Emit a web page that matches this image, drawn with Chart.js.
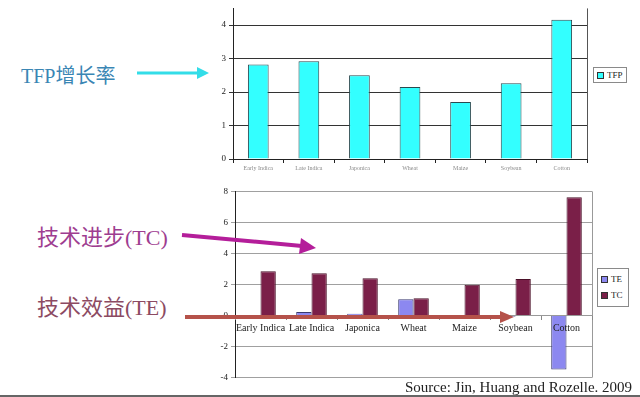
<!DOCTYPE html>
<html>
<head>
<meta charset="utf-8">
<script src="https://cdn.jsdelivr.net/npm/chart.js@4.4.1/dist/chart.umd.min.js"></script>
<style>
    body { margin: 0; background: #fff; }
    #page { position: relative; width: 640px; height: 397px; overflow: hidden; background: #fff; }
    .pane { position: absolute; }
    .note { position: absolute; font-family: 'Liberation Serif', 'Noto Sans CJK SC', serif; white-space: nowrap; line-height: 1; }
    .legend { position: absolute; box-sizing: border-box; border: 1px solid #8a8a8a; background: #fff;
              font-family: 'Liberation Serif', serif; font-size: 9px; color: #222; padding: 1px 3px; }
    .legend .item { display: flex; align-items: center; height: 16px; }
    .legend .sw { display: inline-block; width: 5px; height: 5px; border: 1px solid #333; margin-right: 3px; }
    svg { position: absolute; left: 0; top: 0; }
</style>
</head>
<body>
<div id="page">
    <div class="pane" style="left:195px; top:0px; width:400px; height:186px;">
        <canvas id="tfpChart" width="400" height="186"></canvas>
    </div>
    <div class="pane" style="left:195px; top:183px; width:400px; height:203px;">
        <canvas id="tetcChart" width="400" height="203"></canvas>
    </div>

    <div class="legend" style="left:593px; top:67px; width:34px; height:16px;">
        <div class="item" style="height:12px;"><span class="sw" style="background:#33ffff"></span>TFP</div>
    </div>
    <div class="legend" style="left:597px; top:268px; width:32px; height:39px; padding-top:2px;">
        <div class="item"><span class="sw" style="background:#8c88f0"></span>TE</div>
        <div class="item"><span class="sw" style="background:#7a1f48"></span>TC</div>
    </div>

    <div class="note" style="left:21px; top:66px; font-size:20px; color:#3a86b4;">TFP增长率</div>
    <div class="note" style="left:37px; top:227px; font-size:22px; color:#9e3d90;">技术进步(TC)</div>
    <div class="note" style="left:37px; top:297px; font-size:22px; color:#8c4a62;">技术效益(TE)</div>
    <div class="note" style="left:405px; top:380px; font-size:15px; color:#222;">Source: Jin, Huang and Rozelle. 2009</div>
    <div style="position:absolute; left:0; top:395px; width:640px; height:2px; background:#666;"></div>

    <svg width="640" height="397">
        <!-- cyan arrow -->
        <line x1="137" y1="73" x2="199" y2="73" stroke="#33dde8" stroke-width="3"/>
        <polygon points="197,67 209,73 197,79" fill="#33dde8"/>
        <!-- magenta arrow -->
        <line x1="182" y1="235" x2="302" y2="246" stroke="#b41e9a" stroke-width="4"/>
        <polygon points="301,238 316,248 299,254" fill="#b41e9a"/>
        <!-- brick arrow -->
        <line x1="185" y1="317" x2="502" y2="317" stroke="#b5524a" stroke-width="4"/>
        <polygon points="500,311 514,317 500,323" fill="#b5524a"/>
    </svg>
</div>

<script>
    const categories = ['Early Indica', 'Late Indica', 'Japonica', 'Wheat', 'Maize', 'Soybean', 'Cotton'];

    // TFP growth rate (top chart)
    const tfpValues = [2.82, 2.92, 2.5, 2.15, 1.7, 2.26, 4.16];
    const tfpTicks = [0, 1, 2, 3, 4];

    // TE and TC (bottom chart)
    const teValues = [0.02, 0.22, 0.12, 1.05, -0.06, -0.08, -3.47];
    const tcValues = [2.85, 2.72, 2.4, 1.12, 1.98, 2.36, 7.62];
    const tetcTicks = [-4, -2, 0, 2, 4, 6, 8];

    const serif = 'Liberation Serif';

    // right side line of the plot area
    const frameLine = {
        id: 'frameLine',
        beforeDatasetsDraw(chart, args, opts) {
            const ctx = chart.ctx;
            const a = chart.chartArea;
            ctx.save();
            ctx.strokeStyle = opts.color || '#555';
            ctx.lineWidth = 1;
            ctx.beginPath();
            ctx.moveTo(Math.round(a.right) + 0.5, a.top);
            ctx.lineTo(Math.round(a.right) + 0.5, a.bottom);
            ctx.stroke();
            ctx.restore();
        }
    };

    new Chart(document.getElementById('tfpChart'), {
        type: 'bar',
        data: {
            labels: categories,
            datasets: [{
                label: 'TFP',
                data: tfpValues,
                backgroundColor: '#33ffff',
                borderColor: '#2a4a50',
                borderWidth: 1,
                barPercentage: 0.41,
                categoryPercentage: 1
            }]
        },
        options: {
            responsive: false,
            animation: false,
            devicePixelRatio: 1,
            layout: { padding: { top: 8, right: 8, left: 0, bottom: 0 } },
            plugins: {
                legend: { display: false },
                tooltip: { enabled: false },
                frameLine: { color: '#555' }
            },
            scales: {
                x: {
                    grid: { offset: true, drawOnChartArea: false, tickLength: 4, color: '#222' },
                    border: { color: '#222' },
                    ticks: { font: { family: serif, size: 6 }, color: '#8a8a8a', maxRotation: 0, autoSkip: false, padding: 2 },
                    afterFit(scale) { scale.height = 27; }
                },
                y: {
                    min: 0,
                    max: 4.5,
                    ticks: { stepSize: 1, font: { family: serif, size: 9 }, color: '#222', padding: 3 },
                    grid: { color: '#333', tickLength: 4 },
                    border: { color: '#222' },
                    afterBuildTicks(scale) { scale.ticks = scale.ticks.filter(t => tfpTicks.includes(t.value)); },
                    afterFit(scale) { scale.width = 38; }
                }
            }
        },
        plugins: [frameLine]
    });

    new Chart(document.getElementById('tetcChart'), {
        type: 'bar',
        data: {
            labels: categories,
            datasets: [{
                label: 'TE',
                data: teValues,
                backgroundColor: '#8c88f0',
                borderColor: '#3a3a70',
                borderWidth: 1,
                barPercentage: 1,
                categoryPercentage: 0.6
            }, {
                label: 'TC',
                data: tcValues,
                backgroundColor: '#7a1f48',
                borderColor: '#4a1028',
                borderWidth: 1,
                barPercentage: 1,
                categoryPercentage: 0.6
            }]
        },
        options: {
            responsive: false,
            animation: false,
            devicePixelRatio: 1,
            layout: { padding: { top: 7, right: 3, left: 0, bottom: 7 } },
            plugins: {
                legend: { display: false },
                tooltip: { enabled: false },
                frameLine: { color: '#999' }
            },
            scales: {
                x: {
                    position: { y: 0 },
                    grid: { offset: true, drawOnChartArea: false, tickLength: 4, color: '#888', z: 1 },
                    border: { color: '#999', z: 1 },
                    ticks: { font: { family: serif, size: 10 }, color: '#222', maxRotation: 0, autoSkip: false, padding: 3, z: 1 }
                },
                y: {
                    min: -4,
                    max: 8,
                    ticks: { stepSize: 2, font: { family: serif, size: 9 }, color: '#222', padding: 3 },
                    grid: { color: '#a0a0a0', tickLength: 4 },
                    border: { color: '#222' },
                    afterBuildTicks(scale) { scale.ticks = scale.ticks.filter(t => tetcTicks.includes(t.value)); },
                    afterFit(scale) { scale.width = 40; }
                }
            }
        },
        plugins: [frameLine]
    });
</script>
</body>
</html>
